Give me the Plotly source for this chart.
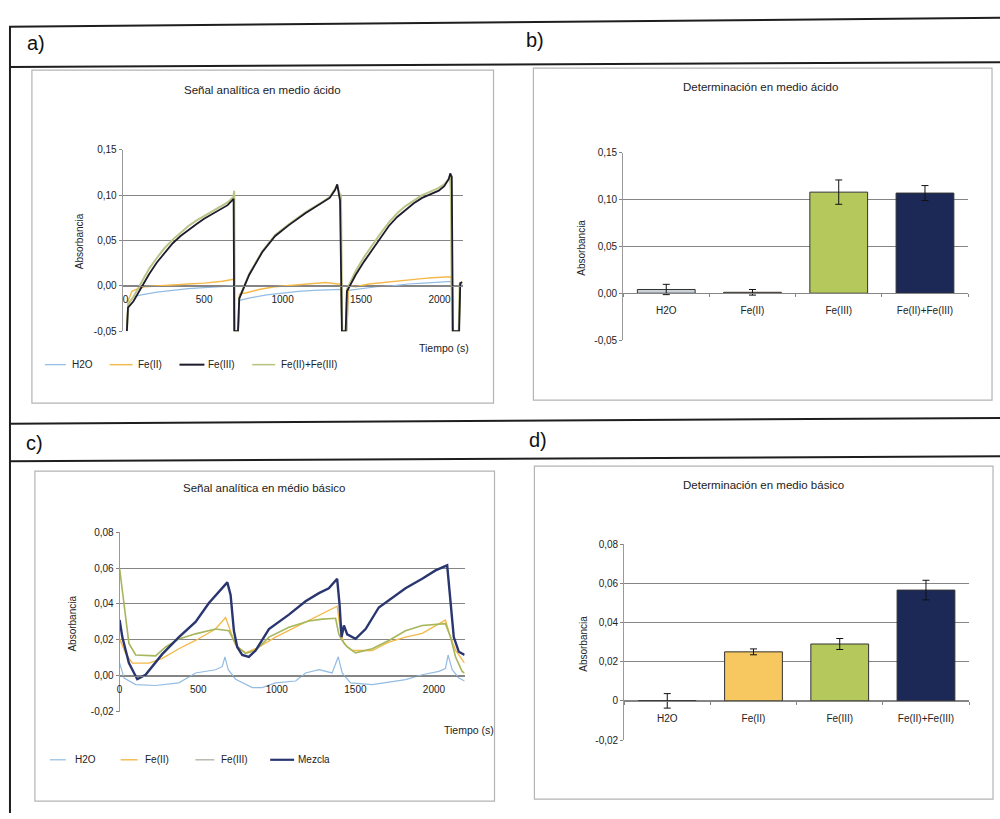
import plotly.graph_objects as go

W, H = 1000, 819
FONT = "Liberation Sans, Arial, sans-serif"


def px(x):
    return x / W


def py(y):
    return 1 - y / H


# ---------------- Panel a: Señal analítica en medio ácido ----------------
a_series = ["H2O", "Fe(II)", "Fe(III)", "Fe(II)+Fe(III)"]
a_t_h2o = [8, 15, 50, 100, 200, 300, 400, 500, 600, 680, 690, 694, 718, 725, 800, 900, 1000, 1100, 1200, 1300,
           1370, 1378, 1410, 1420, 1500, 1600, 1700, 1800, 1900, 2000, 2075, 2083, 2125, 2132, 2145]
a_y_h2o = [-0.05, -0.02, -0.012, -0.010, -0.007, -0.005, -0.003, -0.002, -0.001, 0.0, 0.0, -0.05, -0.05, -0.016,
           -0.013, -0.010, -0.008, -0.006, -0.005, -0.004, -0.004, -0.05, -0.05, -0.005, -0.003, -0.001, 0.0,
           0.002, 0.003, 0.004, 0.005, -0.05, -0.05, 0.0, 0.002]
a_t_fe2 = [8, 15, 40, 66, 120, 200, 300, 400, 500, 616, 680, 690, 694, 718, 725, 770, 850, 950, 1063, 1150,
           1275, 1350, 1372, 1378, 1410, 1420, 1465, 1550, 1650, 1750, 1889, 1950, 2040, 2075, 2083, 2125, 2132, 2145]
a_y_fe2 = [-0.05, -0.017, -0.006, -0.004, -0.001, 0.0, 0.0015, 0.002, 0.003, 0.005, 0.007, 0.007, -0.05, -0.05,
           -0.009, -0.0076, -0.004, -0.001, 0.0007, 0.002, 0.0036, 0.002, 0.002, -0.05, -0.05, 0.0, -0.001, 0.002,
           0.004, 0.006, 0.008, 0.009, 0.0098, 0.010, -0.05, -0.05, 0.003, 0.005]
a_t_fe3 = [8, 15, 50, 100, 150, 200, 250, 300, 350, 400, 450, 500, 550, 600, 650, 688, 692, 716, 724, 787,
           870, 953, 1040, 1145, 1250, 1300, 1335, 1348, 1366, 1378, 1402, 1410, 1432, 1465, 1520, 1571, 1625,
           1677, 1730, 1783, 1836, 1889, 1942, 1995, 2030, 2059, 2068, 2078, 2085, 2125, 2132, 2145]
a_y_fe3 = [-0.05, -0.024, -0.017, -0.002, 0.013, 0.026, 0.037, 0.047, 0.055, 0.062, 0.068, 0.074, 0.079, 0.084,
           0.089, 0.096, -0.05, -0.05, -0.014, 0.012, 0.037, 0.055, 0.067, 0.080, 0.091, 0.097, 0.106, 0.112,
           0.094, -0.05, -0.05, -0.006, 0.001, 0.012, 0.027, 0.040, 0.054, 0.066, 0.076, 0.084, 0.091, 0.097,
           0.101, 0.105, 0.110, 0.118, 0.124, 0.120, -0.05, -0.05, 0.003, 0.004]
a_t_mix = [8, 18, 50, 100, 150, 200, 250, 300, 350, 400, 450, 500, 550, 600, 650, 686, 692, 696, 716, 724,
           787, 870, 953, 1040, 1145, 1250, 1300, 1335, 1348, 1366, 1372, 1380, 1402, 1410, 1432, 1465, 1520,
           1571, 1625, 1677, 1730, 1783, 1836, 1889, 1942, 1995, 2030, 2059, 2066, 2072, 2080, 2122, 2128, 2145]
a_y_mix = [-0.05, -0.02, -0.012, 0.004, 0.019, 0.031, 0.042, 0.051, 0.059, 0.066, 0.072, 0.077, 0.082, 0.087,
           0.092, 0.098, 0.105, -0.05, -0.05, -0.013, 0.013, 0.038, 0.056, 0.068, 0.081, 0.092, 0.098, 0.107,
           0.111, 0.100, 0.100, -0.05, -0.05, -0.004, 0.004, 0.016, 0.032, 0.045, 0.058, 0.070, 0.080, 0.088,
           0.094, 0.100, 0.104, 0.108, 0.112, 0.118, 0.121, 0.105, -0.05, -0.05, 0.002, 0.004]

# ---------------- Panel b: Determinación en medio ácido ----------------
bar_cats = ["H2O", "Fe(II)", "Fe(III)", "Fe(II)+Fe(III)"]
b_vals = [0.004, 0.001, 0.108, 0.107]
b_errs = [0.0055, 0.003, 0.013, 0.008]

# ---------------- Panel c: Señal analítica en médio básico ----------------
c_series = ["H2O", "Fe(II)", "Fe(III)", "Mezcla"]
c_t_h2o = [0, 28, 102, 229, 377, 483, 610, 653, 670, 691, 738, 844, 907, 992, 1120, 1183, 1268, 1352, 1391,
           1416, 1469, 1607, 1819, 1925, 2031, 2073, 2090, 2116, 2158, 2195]
c_y_h2o = [0.007, -0.0013, -0.005, -0.0055, -0.004, 0.0015, 0.0033, 0.005, 0.0105, 0.0033, -0.002, -0.0067,
           -0.0067, -0.004, -0.003, 0.0015, 0.0033, 0.0015, 0.0105, 0.0015, -0.004, -0.005, -0.0022, 0.0005,
           0.0024, 0.004, 0.0115, 0.0033, -0.0013, -0.003]
c_t_fe2 = [0, 38, 81, 187, 271, 377, 483, 610, 674, 706, 738, 801, 865, 992, 1120, 1247, 1384, 1405, 1427,
           1480, 1607, 1713, 1819, 1925, 2073, 2105, 2137, 2195]
c_y_fe2 = [0.0205, 0.0124, 0.007, 0.007, 0.0096, 0.015, 0.0196, 0.026, 0.0324, 0.025, 0.017, 0.0127, 0.015,
           0.0215, 0.027, 0.0324, 0.0387, 0.025, 0.0178, 0.014, 0.014, 0.0187, 0.0215, 0.0236, 0.031, 0.0215,
           0.0142, 0.007]
c_t_fe3 = [0, 28, 59, 102, 229, 293, 377, 483, 610, 695, 717, 748, 801, 865, 950, 1077, 1204, 1289, 1374,
           1395, 1416, 1448, 1501, 1607, 1713, 1819, 1925, 2073, 2105, 2137, 2179, 2195]
c_y_fe3 = [0.0596, 0.040, 0.018, 0.0115, 0.011, 0.016, 0.0205, 0.0233, 0.026, 0.025, 0.0215, 0.016, 0.0124,
           0.014, 0.0215, 0.027, 0.0305, 0.0315, 0.032, 0.023, 0.0196, 0.016, 0.0127, 0.015, 0.0196, 0.025,
           0.028, 0.029, 0.0215, 0.0105, 0.0024, 0.0015]
c_t_mez = [0, 17, 59, 112, 165, 271, 377, 483, 568, 674, 685, 706, 727, 748, 780, 822, 865, 950, 1077, 1183,
           1268, 1331, 1384, 1399, 1412, 1427, 1448, 1501, 1565, 1649, 1713, 1819, 1925, 2010, 2084, 2105, 2126,
           2158, 2195]
c_y_mez = [0.031, 0.0215, 0.007, -0.002, 0.0005, 0.012, 0.0215, 0.030, 0.0405, 0.0505, 0.052, 0.045, 0.025,
           0.016, 0.0115, 0.0105, 0.014, 0.026, 0.034, 0.0415, 0.046, 0.0487, 0.054, 0.040, 0.0215, 0.028, 0.023,
           0.0205, 0.026, 0.038, 0.042, 0.0487, 0.054, 0.0587, 0.0615, 0.043, 0.0215, 0.0133, 0.0115]

# ---------------- Panel d: Determinación en medio básico ----------------
d_vals = [0.0, 0.025, 0.029, 0.0565]
d_errs = [0.0037, 0.0015, 0.0028, 0.005]

# tick labels
a_yticks = [-0.05, 0.0, 0.05, 0.10, 0.15]
a_ytext = ["-0,05", "0,00", "0,05", "0,10", "0,15"]
c_yticks = [-0.02, 0.0, 0.02, 0.04, 0.06, 0.08]
c_ytext = ["-0,02", "0,00", "0,02", "0,04", "0,06", "0,08"]
d_ytext = ["-0,02", "0", "0,02", "0,04", "0,06", "0,08"]
time_ticks = [0, 500, 1000, 1500, 2000]

for tt, yy in [(a_t_h2o, a_y_h2o), (a_t_fe2, a_y_fe2), (a_t_fe3, a_y_fe3), (a_t_mix, a_y_mix),
               (c_t_h2o, c_y_h2o), (c_t_fe2, c_y_fe2), (c_t_fe3, c_y_fe3), (c_t_mez, c_y_mez)]:
    assert len(tt) == len(yy), (len(tt), len(yy))

# colours
C_H2O = "#92bce3"
C_FE2 = "#f3b94a"
C_FE3_A = "#1c1c2c"
C_MIX_A = "#bcc486"
C_FE3_C = "#a6b65a"
C_MEZ = "#2a3670"
BAR_COLORS = ["#c9d0d8", "#f6c85f", "#b4c85c", "#1c2957"]
GRID = "#858585"
TXT = "#222222"

fig = go.Figure()

# panel a traces
for name, tt, yy, col, w in [
    (a_series[0], a_t_h2o, a_y_h2o, C_H2O, 1.2),
    (a_series[1], a_t_fe2, a_y_fe2, C_FE2, 1.4),
    (a_series[3], a_t_mix, a_y_mix, C_MIX_A, 2.0),
    (a_series[2], a_t_fe3, a_y_fe3, C_FE3_A, 1.8),
]:
    fig.add_trace(go.Scatter(x=tt, y=yy, mode="lines", name=name, line=dict(color=col, width=w),
                             xaxis="x", yaxis="y", showlegend=False))

# panel b bars
fig.add_trace(go.Bar(x=bar_cats, y=b_vals, marker=dict(color=BAR_COLORS, line=dict(color="#333333", width=1)),
                     width=0.67, error_y=dict(type="data", array=b_errs, color="#111111", thickness=1, width=3.5),
                     xaxis="x2", yaxis="y2", showlegend=False, name="medio ácido"))

# panel c traces
for name, tt, yy, col, w in [
    (c_series[0], c_t_h2o, c_y_h2o, C_H2O, 1.2),
    (c_series[1], c_t_fe2, c_y_fe2, C_FE2, 1.4),
    (c_series[2], c_t_fe3, c_y_fe3, C_FE3_C, 1.6),
    (c_series[3], c_t_mez, c_y_mez, C_MEZ, 2.4),
]:
    fig.add_trace(go.Scatter(x=tt, y=yy, mode="lines", name=name, line=dict(color=col, width=w),
                             xaxis="x3", yaxis="y3", showlegend=False))

# panel d bars
fig.add_trace(go.Bar(x=bar_cats, y=d_vals, marker=dict(color=BAR_COLORS, line=dict(color="#333333", width=1)),
                     width=0.67, error_y=dict(type="data", array=d_errs, color="#111111", thickness=1, width=3.5),
                     xaxis="x4", yaxis="y4", showlegend=False, name="medio básico"))


def zero_pos(dom, rng):
    return dom[0] + (0 - rng[0]) / (rng[1] - rng[0]) * (dom[1] - dom[0])


tickfont = dict(family=FONT, size=10, color=TXT)

panels = {
    "a": dict(xd=[px(120), px(461)], yd=[py(330), py(146)], xr=[-19, 2147], yr=[-0.05, 0.15]),
    "b": dict(xd=[px(622), px(968)], yd=[py(339), py(149)], xr=[-0.5, 3.5], yr=[-0.05, 0.15]),
    "c": dict(xd=[px(117), px(463)], yd=[py(716), py(534)], xr=[0, 2195], yr=[-0.02, 0.08]),
    "d": dict(xd=[px(623), px(969)], yd=[py(745), py(546)], xr=[-0.5, 3.5], yr=[-0.02, 0.08]),
}

layout = dict(
    width=W, height=H, margin=dict(l=0, r=0, t=0, b=0), paper_bgcolor="white", plot_bgcolor="white",
    showlegend=False, hovermode=False, font=dict(family=FONT, color=TXT),
)

axis_ids = {"a": ("xaxis", "yaxis", "x", "y"), "b": ("xaxis2", "yaxis2", "x2", "y2"),
            "c": ("xaxis3", "yaxis3", "x3", "y3"), "d": ("xaxis4", "yaxis4", "x4", "y4")}
ytexts = {"a": (a_yticks, a_ytext), "b": (a_yticks, a_ytext), "c": (c_yticks, c_ytext), "d": (c_yticks, d_ytext)}

for k, p in panels.items():
    xa, ya, xn, yn = axis_ids[k]
    xdict = dict(domain=p["xd"], range=p["xr"], anchor="free", position=zero_pos(p["yd"], p["yr"]),
                 showgrid=False, zeroline=False, showline=True, linecolor=GRID, linewidth=1,
                 tickfont=tickfont, fixedrange=True)
    if k in ("a", "c"):
        xdict.update(tickmode="array", tickvals=time_ticks, ticktext=[str(v) for v in time_ticks],
                     ticks="outside", ticklen=4, tickcolor="rgba(0,0,0,0)")
    else:
        xdict.update(type="category", tickson="boundaries", ticks="outside", ticklen=3, tickcolor=GRID,
                     ticklabelstandoff=8)
    layout[xa] = xdict
    tv, tx = ytexts[k]
    layout[ya] = dict(domain=p["yd"], range=p["yr"], anchor=xn, tickmode="array", tickvals=tv, ticktext=tx,
                      showgrid=True, gridcolor=GRID, gridwidth=1, zeroline=False, showline=True,
                      linecolor="#9a9a9a", linewidth=1, ticks="outside", ticklen=3, tickcolor=GRID,
                      tickfont=tickfont, fixedrange=True)

fig.update_layout(**layout)

# ---- frames and table lines ----
shapes = []
for (x0, y0, x1, y1) in [(29, 65, 492, 403), (532, 63, 992, 400), (32, 472, 493, 807), (533, 467, 993, 805)]:
    shapes.append(dict(type="rect", xref="paper", yref="paper", x0=px(x0), y0=py(y1), x1=px(x1), y1=py(y0),
                       line=dict(color="#b4b4b4", width=1.2), fillcolor="rgba(0,0,0,0)", layer="below"))
for (x0, y0, x1, y1) in [(6, 21, 1000, 12), (6, 62, 1000, 57), (6, 424, 1000, 418), (6, 462, 1000, 457),
                         (7, 21, 7, 819)]:
    shapes.append(dict(type="line", xref="paper", yref="paper", x0=px(x0), y0=py(y0), x1=px(x1), y1=py(y1),
                       line=dict(color="#1e1e1e", width=2)))

# manual legends
legend_a = [(42, 63, 67), (107, 130, 133), (177, 202, 204), (250, 273, 277)]
legend_a_cols = [(C_H2O, 1.2), (C_FE2, 1.4), (C_FE3_A, 2.0), (C_MIX_A, 1.6)]
legend_c = [(47, 63, 70), (118, 135, 140), (193, 212, 217), (268, 292, 294)]
legend_c_cols = [(C_H2O, 1.2), (C_FE2, 1.4), ("#b3b6a8", 1.4), (C_MEZ, 2.2)]

annotations = []
for names, pos, cols, yy in [(a_series, legend_a, legend_a_cols, 364), (c_series, legend_c, legend_c_cols, 765)]:
    for nm, (l0, l1, tx), (col, w) in zip(names, pos, cols):
        shapes.append(dict(type="line", xref="paper", yref="paper", x0=px(l0), x1=px(l1), y0=py(yy), y1=py(yy),
                           line=dict(color=col, width=w)))
        annotations.append(dict(text=nm, xref="paper", yref="paper", x=px(tx), y=py(yy), xanchor="left",
                                yanchor="middle", showarrow=False, font=dict(family=FONT, size=10, color=TXT)))

# titles
for txt, x, y in [("Señal analítica en medio ácido", 260, 85), ("Determinación en medio ácido", 760, 82),
                  ("Señal analítica en médio básico", 262, 489), ("Determinación en medio básico", 763, 486)]:
    annotations.append(dict(text=txt, xref="paper", yref="paper", x=px(x), y=py(y), xanchor="center",
                            yanchor="middle", showarrow=False, font=dict(family=FONT, size=11.5, color=TXT)))

# y axis titles
for x, y in [(77, 239), (580, 245), (70, 627), (582, 647)]:
    annotations.append(dict(text="Absorbancia", xref="paper", yref="paper", x=px(x), y=py(y), xanchor="center",
                            yanchor="middle", textangle=-90, showarrow=False,
                            font=dict(family=FONT, size=10, color=TXT)))

# x axis titles
for x, y in [(442, 347), (467, 735)]:
    annotations.append(dict(text="Tiempo (s)", xref="paper", yref="paper", x=px(x), y=py(y), xanchor="center",
                            yanchor="middle", showarrow=False, font=dict(family=FONT, size=10.5, color=TXT)))

# panel letters
for txt, x, y in [("a)", 33, 38), ("b)", 534, 34), ("c)", 32, 443), ("d)", 537, 440)]:
    annotations.append(dict(text=txt, xref="paper", yref="paper", x=px(x), y=py(y), xanchor="center",
                            yanchor="middle", showarrow=False, font=dict(family=FONT, size=20, color="#111111")))

fig.update_layout(shapes=shapes, annotations=annotations)
fig.write_html("out.html", config={"displayModeBar": False, "staticPlot": True},
               post_script="document.body.style.margin='0px';document.body.style.overflow='hidden';")
